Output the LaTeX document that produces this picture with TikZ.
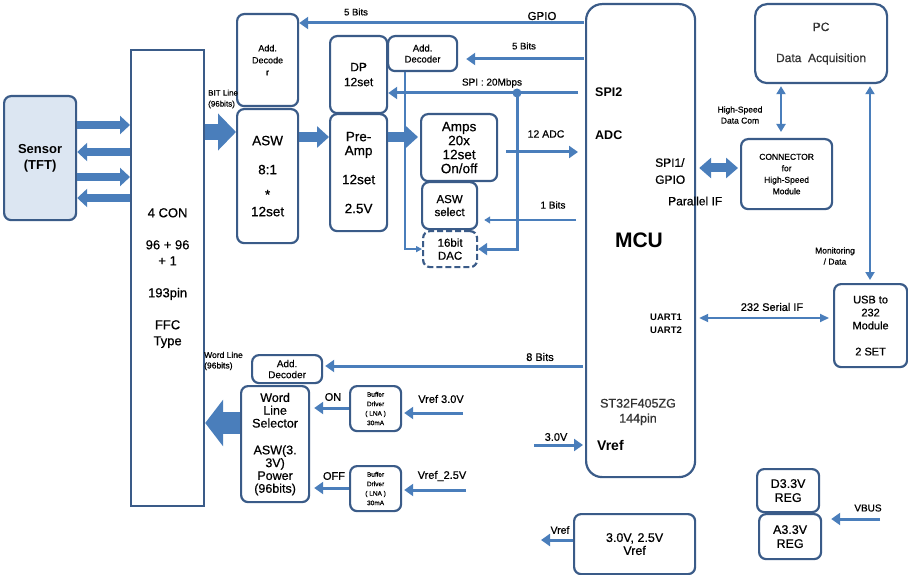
\documentclass[tikz,border=0pt]{standalone}
\usepackage{fontspec}
\setmainfont{Liberation Sans}[UprightFeatures={FakeBold=0.6}]
\usetikzlibrary{arrows.meta}
\definecolor{bd}{HTML}{3A5B88}
\definecolor{ar}{HTML}{4A7EBB}
\definecolor{sfill}{HTML}{DCE6F2}
\newcommand\fsz[2]{\fontsize{#1}{#2}\selectfont}
\begin{document}
\begin{tikzpicture}[x=1pt,y=-1pt,
  box/.style={draw=bd, line width=2.2pt, rounded corners=7pt, fill=white, align=center, anchor=north west, inner sep=0pt, font=\fsz{12}{14}},
  arr/.style={draw=ar, line width=3pt, -{Triangle[width=12pt,length=9pt]}},
  thinarr/.style={draw=ar, line width=1.4pt, -{Triangle[width=7pt,length=6pt]}},
  fatarr/.style={draw=ar, line width=8pt, -{Triangle[width=18pt,length=10pt]}},
  midarr/.style={draw=ar, line width=10pt, -{Triangle[width=21pt,length=12pt]}},
  dblarr/.style={draw=ar, line width=2.5pt, {Triangle[width=9pt,length=8pt]}-{Triangle[width=9pt,length=8pt]}},
  lbl/.style={inner sep=0pt, font=\fsz{10}{12}, align=center}]
\useasboundingbox (0,0) rectangle (908,575);
% boxes
\node[box, fill=sfill, minimum width=72pt, minimum height=124pt, font=\bfseries\fsz{13}{16}] (sensor) at (3,95) {Sensor\\(TFT)};
\node[box, rounded corners=0pt, minimum width=73pt, minimum height=456pt, font=\fsz{13}{16}] (con) at (130,49) {4 CON\\[16pt]96 + 96\\+ 1\\[16pt]193pin\\[16pt]FFC\\Type};
\node[box, minimum width=61pt, minimum height=92pt, font=\fsz{9}{12}] (adt) at (236,13) {Add.\\Decode\\r};
\node[box, minimum width=61pt, minimum height=134pt, font=\fsz{13.5}{14}] (asw) at (236,108) {ASW\\[15pt]8:1\\[11pt]*\\[3pt]12set};
\node[box, minimum width=57pt, minimum height=77pt, font=\fsz{12}{15}] (dp) at (329,35) {DP\\12set};
\node[box, minimum width=69pt, minimum height=35pt, font=\fsz{9.5}{11}] (add2) at (387,35) {Add.\\Decoder};
\node[box, minimum width=57pt, minimum height=117pt, font=\fsz{13.5}{14}] (pre) at (329,113) {Pre-\\Amp\\[15pt]12set\\[15pt]2.5V};
\node[box, minimum width=76pt, minimum height=67pt, font=\fsz{13.5}{14}] (amps) at (420,113) {Amps\\20x\\12set\\On/off};
\node[box, minimum width=55pt, minimum height=47pt, font=\fsz{11.5}{13}] (asel) at (421,181) {ASW\\select};
\node[box, dashed, dash pattern=on 6pt off 3pt, minimum width=54pt, minimum height=36pt, font=\fsz{11.5}{13}] (dac) at (422,230) {16bit\\DAC};
\node[box, rounded corners=16pt, minimum width=109pt, minimum height=473pt] (mcu) at (585,3) {};
\node[box, minimum width=91pt, minimum height=70pt, font=\fsz{8.5}{11.5}] (conn) at (740,138) {CONNECTOR\\for\\High-Speed\\Module};
\node[box, rounded corners=12pt, minimum width=132pt, minimum height=79pt, font=\fsz{12}{13}, text=black!80] (pc) at (754,3) {PC\\[18pt]Data\ \ Acquisition};
\node[box, minimum width=73pt, minimum height=83pt, font=\fsz{11}{13}] (usb) at (833,283) {USB to\\232\\Module\\[13pt]2 SET};
\node[box, minimum width=70pt, minimum height=28pt, font=\fsz{10}{11}] (add3) at (251,354) {Add.\\Decoder};
\node[box, minimum width=68pt, minimum height=116pt, font=\fsz{12.5}{12.8}] (wls) at (240,385) {Word\\Line\\Selector\\[14pt]ASW(3.\\3V)\\Power\\(96bits)};
\node[box, minimum width=51pt, minimum height=45pt, font=\fsz{6.5}{9.5}] (buf1) at (349,385) {Buffer\\Driver\\( LNA )\\30mA};
\node[box, minimum width=51pt, minimum height=45pt, font=\fsz{6.5}{9.5}] (buf2) at (349,465) {Buffer\\Driver\\( LNA )\\30mA};
\node[box, minimum width=121pt, minimum height=60pt, font=\fsz{12.5}{13}] (vrefb) at (573,513) {3.0V, 2.5V\\Vref};
\node[box, minimum width=62pt, minimum height=43pt, font=\fsz{12.5}{14}] (d33) at (756,468) {D3.3V\\REG};
\node[box, minimum width=62pt, minimum height=45pt, font=\fsz{12.5}{14}] (a33) at (758,513) {A3.3V\\REG};
% MCU inner labels
\node[lbl, anchor=west, font=\bfseries\fsz{12.5}{14}] (lspi2) at (595,92) {SPI2};
\node[lbl, anchor=west, font=\bfseries\fsz{12.5}{14}] (ladc) at (595,135) {ADC};
\node[lbl, anchor=west, align=left, font=\fsz{12}{17}] (lspi1) at (655,171) {SPI1/\\GPIO};
\node[lbl, anchor=west, font=\fsz{12}{14}] (lpar) at (668,201) {Parallel IF};
\node[lbl, font=\bfseries\fsz{21}{22}] (lmcu) at (639,240) {MCU};
\node[lbl, anchor=west, align=left, font=\bfseries\fsz{9.5}{13}] (luart) at (650,324) {UART1\\UART2};
\node[lbl, font=\fsz{12.5}{15}, text=black!80] (lst) at (638,412) {ST32F405ZG\\144pin};
\node[lbl, anchor=west, font=\bfseries\fsz{14}{16}] (lvref) at (597,445) {Vref};
% connector labels
\node[lbl, font=\fsz{9.5}{12}] (l5a) at (356,12) {5 Bits};
\node[lbl, font=\fsz{11.5}{13}] (lgpio) at (542,16) {GPIO};
\node[lbl, font=\fsz{9.5}{12}] (l5b) at (524,46) {5 Bits};
\node[lbl, font=\fsz{10}{12}] (lspi) at (492,83) {SPI : 20Mbps};
\node[lbl, font=\fsz{10.5}{12}] (ladc12) at (546,134) {12 ADC};
\node[lbl, font=\fsz{10}{12}] (l1b) at (553,205) {1 Bits};
\node[lbl, anchor=west, align=left, font=\fsz{8}{11}] (lbit) at (208,99) {BIT Line\\(96bits)};
\node[lbl, font=\fsz{8.5}{11}] (lhs) at (740,115) {High-Speed\\Data Com};
\node[lbl, font=\fsz{8.5}{11}] (lmon) at (835,256) {Monitoring\\/ Data};
\node[lbl, font=\fsz{11}{13}] (l232) at (772,307) {232 Serial IF};
\node[lbl, font=\fsz{11}{13}] (l8b) at (540,357) {8 Bits};
\node[lbl, anchor=west, align=left, font=\fsz{8.5}{10.5}] (lwl) at (204,361) {Word Line\\(96bits)};
\node[lbl, font=\fsz{11}{13}] (lon) at (333,397) {ON};
\node[lbl, font=\fsz{11}{13}] (loff) at (334,476) {OFF};
\node[lbl, font=\fsz{11}{13}] (lv30) at (441,399) {Vref 3.0V};
\node[lbl, font=\fsz{11}{13}] (lv25) at (442,476) {Vref\_2.5V};
\node[lbl, font=\fsz{11}{13}] (l30) at (556,437) {3.0V};
\node[lbl, font=\fsz{10.5}{13}] (lvr) at (560,530) {Vref};
\node[lbl, font=\fsz{10}{12}] (lvbus) at (868,508) {VBUS};
% free-end coordinates
\coordinate (spi) at (517,93);
\coordinate (adcs) at (506,152);
\coordinate (onebit) at (576,220);
\coordinate (v30s) at (463,413);
\coordinate (v25s) at (466,490);
\coordinate (s30) at (534,445);
\coordinate (vrend) at (541,540);
\coordinate (vbus) at (880,519);
% sensor <-> connector
\draw[fatarr] (sensor.east |- 0,125) -- (con.west |- 0,125);
\draw[fatarr] (con.west |- 0,152) -- (sensor.east |- 0,152);
\draw[fatarr] (sensor.east |- 0,177) -- (con.west |- 0,177);
\draw[fatarr] (con.west |- 0,198) -- (sensor.east |- 0,198);
% bit line and word line
\draw[draw=ar, line width=16pt, -{Triangle[width=36pt,length=18pt]}] (con.east |- 0,132) -- (asw.west |- 0,132);
\draw[draw=ar, line width=22pt, -{Triangle[width=46pt,length=18pt]}] (wls.west |- 0,423) -- (con.east |- 0,423);
\draw[midarr] (asw.east |- 0,137) -- (pre.west |- 0,137);
\draw[midarr, shorten >=2pt] (pre.east |- 0,137) -- (amps.west |- 0,137);
% MCU side arrows
\draw[arr, shorten <=1pt] (mcu.west |- 0,23) -- (adt.east |- 0,23);
\draw[arr, shorten <=1pt, shorten >=8pt] (mcu.west |- 0,59) -- (add2.east |- 0,59);
\draw[arr, shorten <=7pt] (mcu.west |- 0,93) -- (dp.east |- 0,93);
\fill[ar] (spi) circle (4.5pt);
\draw[arr] (spi) |- (dac.east);
\draw[draw=ar, line width=1.4pt, -{Triangle[width=6pt,length=6pt]}] ([xshift=-17.5pt]add2.south) |- (dac.west);
\draw[arr, shorten >=7pt] (adcs) -- (mcu.west |- adcs);
\draw[thinarr, shorten >=6pt] (onebit) -- (asel.east |- onebit);
\draw[arr, shorten <=2pt, shorten >=2pt] (mcu.west |- 0,366) -- (add3.east |- 0,366);
\draw[arr, shorten >=4pt] (buf1.west |- 0,408) -- (wls.east |- 0,408);
\draw[arr, shorten >=4pt] (buf2.west |- 0,488) -- (wls.east |- 0,488);
\draw[arr, shorten >=2pt] (v30s) -- (buf1.east |- v30s);
\draw[arr, shorten >=2pt] (v25s) -- (buf2.east |- v25s);
\draw[arr, shorten >=2pt] (s30) -- (mcu.west |- s30);
\draw[arr] (vrefb.west |- vrend) -- (vrend);
\draw[arr, shorten >=9pt] (vbus) -- (a33.east |- vbus);
% right side
\draw[draw=ar, line width=9pt, {Triangle[width=20pt,length=12pt]}-{Triangle[width=20pt,length=12pt]}, shorten <=3pt, shorten >=2pt] (mcu.east |- 0,168) -- (conn.west |- 0,168);
\draw[dblarr, shorten <=2pt, shorten >=6pt] (pc.south -| 781,0) -- (conn.north -| 781,0);
\draw[dblarr, shorten <=2pt, shorten >=3pt] (pc.south -| 870,0) -- (usb.north -| 870,0);
\draw[draw=ar, line width=2pt, {Triangle[width=8pt,length=9pt]}-{Triangle[width=8pt,length=9pt]}, shorten <=3pt, shorten >=4pt] (mcu.east |- 0,318) -- (usb.west |- 0,318);
\end{tikzpicture}
\end{document}
